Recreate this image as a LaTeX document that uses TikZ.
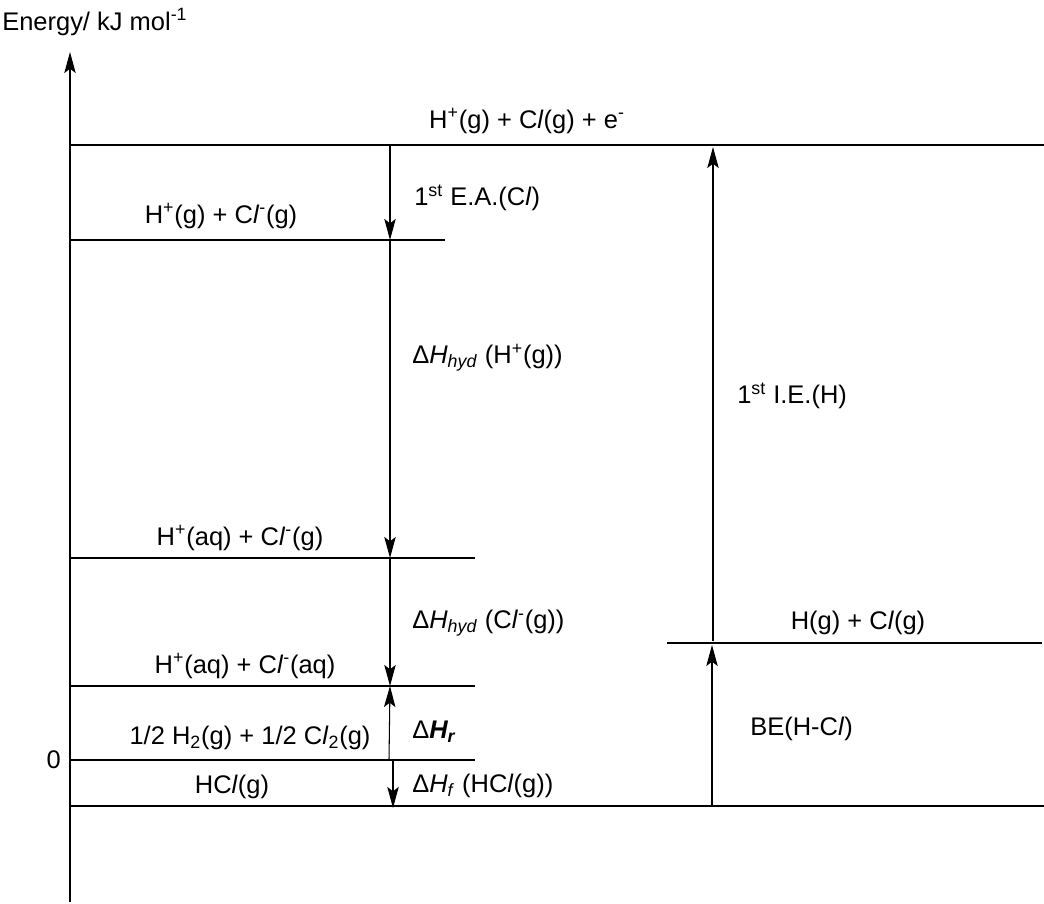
\documentclass[tikz,border=0pt]{standalone}
\usepackage{fontspec}
\setmainfont{Liberation Sans}
\usetikzlibrary{arrows.meta,positioning}
\newcommand{\Cl}{C\textit{l}}
\newcommand{\dH}{Δ\textit{H}}
\begin{document}
\begin{tikzpicture}[x=0.02cm,y=-0.02cm,line width=.6pt,
  every node/.style={font=\fontsize{14.5}{17}\selectfont,inner sep=1pt},
  level/.style={line width=.6pt},
  step arrow/.style={-{Stealth[length=12pt,width=6.5pt,inset=2.5pt]},line width=.6pt}]
\useasboundingbox (0,0) rectangle (1044,903);
% energy axis
\coordinate (ax0) at (70,902);
\coordinate (ax1) at (70,52);
\draw[step arrow] (ax0)--(ax1);
\node[anchor=west] (axlabel) at (0,22) {Energy/ kJ mol\textsuperscript{-1}};
\node[anchor=east] (zero) at (63,760) {0};
% energy levels
\draw[level] (70,145)--(1044,145);
\draw[level] (70,240)--(445,240);
\draw[level] (70,558)--(475,558);
\draw[level] (70,686)--(475,686);
\draw[level] (70,760)--(475,760);
\draw[level] (70,806)--(1044,806);
\draw[level] (667,643)--(1042,643);
\node (ionsgas) at (527,121) {H\textsuperscript{+}(g) + \Cl(g) + e\textsuperscript{-}};
\node (hpclm) at (221,216) {H\textsuperscript{+}(g) + \Cl\textsuperscript{-}(g)};
\node (haqclm) at (240,538) {H\textsuperscript{+}(aq) + \Cl\textsuperscript{-}(g)};
\node (aqaq) at (245,666) {H\textsuperscript{+}(aq) + \Cl\textsuperscript{-}(aq)};
\node (elem) at (250,738) {1/2 H\textsubscript{2}(g) + 1/2 \Cl\textsubscript{2}(g)};
\node (hcl) at (232,787) {H\Cl(g)};
\node (atoms) at (858,623) {H(g) + \Cl(g)};
% arrow ends
\coordinate (ea0) at (390,145);
\coordinate (ea1) at (390,240);
\coordinate (hh1) at (390,558);
\coordinate (hc1) at (390,686);
\coordinate (hr0) at (389,760);
\coordinate (hf0) at (393,760);
\coordinate (hf1) at (393,808);
\coordinate (be0) at (712,806);
\coordinate (be1) at (712,645);
\coordinate (ie0) at (713,641);
\coordinate (ie1) at (713,147);
\draw[step arrow] (ea0)--(ea1);
\draw[step arrow] (ea1)--(hh1);
\draw[step arrow] (hh1)--(hc1);
\draw[step arrow] (hr0)--(hc1);
\draw[step arrow] (hf0)--(hf1);
\draw[step arrow] (be0)--(be1);
\draw[step arrow] (ie0)--(ie1);
\node[anchor=west] (ealabel) at (412,198) {1\textsuperscript{st} E.A.(\Cl)};
\node[anchor=west] (hhlabel) at (410,358) {\dH\textsubscript{\textit{hyd}} (H\textsuperscript{+}(g))};
\node[anchor=west] (hclabel) at (410,623) {\dH\textsubscript{\textit{hyd}} (\Cl\textsuperscript{-}(g))};
\node[anchor=west] (hrlabel) at (410,732) {Δ\textbf{\textit{H\textsubscript{r}}}};
\node[anchor=west] (hflabel) at (410,786) {\dH\textsubscript{\textit{f}} (H\Cl(g))};
\node[anchor=west] (ielabel) at (735,396) {1\textsuperscript{st} I.E.(H)};
\node[anchor=west] (belabel) at (748,729) {BE(H-\Cl)};
\end{tikzpicture}
\end{document}
